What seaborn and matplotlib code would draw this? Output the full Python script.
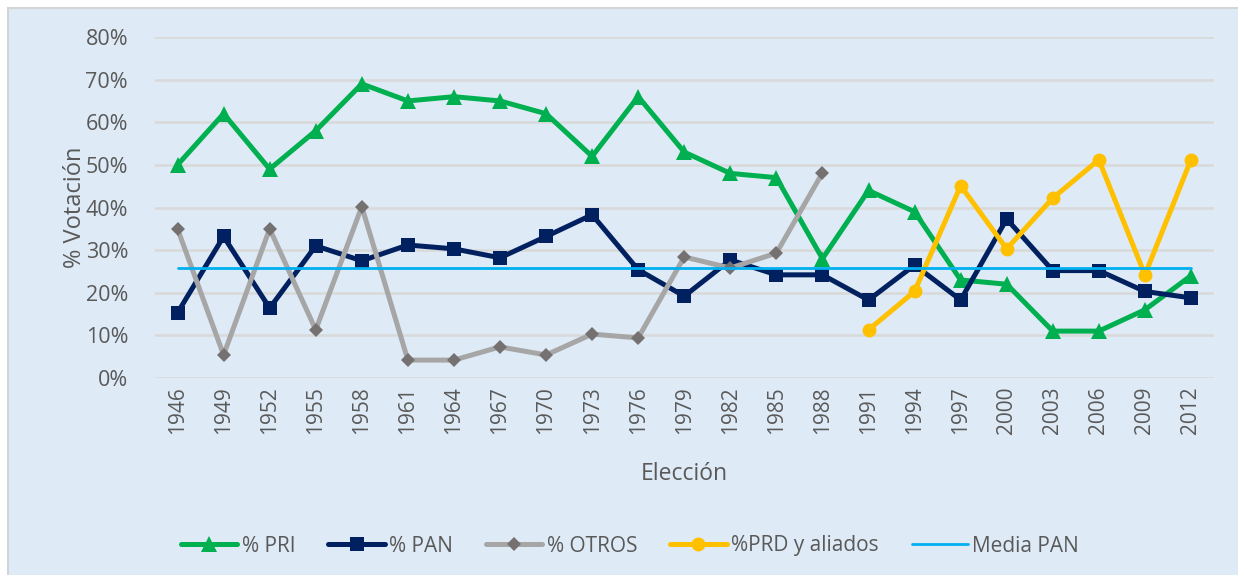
import numpy as np
import pandas as pd
import matplotlib
matplotlib.use("Agg")
import matplotlib.pyplot as plt
import seaborn as sns
from matplotlib.patches import Rectangle
from matplotlib.ticker import PercentFormatter

# ---- data (percent of vote) ----
years = [1946, 1949, 1952, 1955, 1958, 1961, 1964, 1967, 1970, 1973, 1976, 1979,
         1982, 1985, 1988, 1991, 1994, 1997, 2000, 2003, 2006, 2009, 2012]
pri = [50, 62, 49, 58, 69, 65, 66, 65, 62, 52, 66, 53,
       48, 47, 28, 44, 39, 23, 22, 11, 11, 16, 24]
pan = [15.3, 33.2, 16.4, 31, 27.5, 31.2, 30.3, 28.2, 33.2, 38.3, 25.4, 19.2,
       27.7, 24.2, 24.2, 18.3, 26.5, 18.3, 37.3, 25.2, 25.2, 20.3, 18.8]
otros_years = years[:15]
otros = [35, 5.4, 35, 11.3, 40.2, 4.2, 4.2, 7.3, 5.4, 10.3, 9.4, 28.4, 25.8, 29.3, 48.1]
prd_years = years[15:]
prd = [11.3, 20.3, 45.1, 30.3, 42.2, 51.2, 24.2, 51.2]
media_pan = 25.7

series_labels = ["% PRI", "% PAN", "% OTROS", "%PRD y aliados", "Media PAN"]

sns.set_theme(style="white")
plt.rcParams["font.family"] = ["Open Sans", "DejaVu Sans"]

W, H = 1238, 575
fig = plt.figure(figsize=(W / 100, H / 100), dpi=100)
fig.patch.set_facecolor("white")
bg = Rectangle((8 / W, -0.01), 1.02, 1 - 8 / H + 0.01, transform=fig.transFigure,
               facecolor="#deeaf6", edgecolor="#d4d4d4", lw=1.5, zorder=-10)
fig.add_artist(bg)

left, right = 154.5 / W, 1214 / W
bottom, top = 1 - 378 / H, 1 - 37 / H
ax = fig.add_axes([left, bottom, right - left, top - bottom])
ax.set_facecolor("none")
ax.set_zorder(5)

pos = {y: i for i, y in enumerate(years)}
x_all = [pos[y] for y in years]
x_otros = [pos[y] for y in otros_years]
x_prd = [pos[y] for y in prd_years]

sns.lineplot(x=x_all, y=pri, ax=ax, color="#00b050", lw=3.6, marker="^", markersize=11,
             markeredgewidth=0, label=series_labels[0])
sns.lineplot(x=x_all, y=pan, ax=ax, color="#002060", lw=3.6, marker="s", markersize=9.5,
             markeredgewidth=0, label=series_labels[1])
sns.lineplot(x=x_otros, y=otros, ax=ax, color="#a6a6a6", lw=3.6, marker="D", markersize=7.5,
             markerfacecolor="#767171", markeredgecolor="#767171", markeredgewidth=0,
             label=series_labels[2])
sns.lineplot(x=x_prd, y=prd, ax=ax, color="#ffc000", lw=3.6, marker="o", markersize=10,
             markeredgewidth=0, label=series_labels[3])
sns.lineplot(x=[x_all[0], x_all[-1]], y=[media_pan, media_pan], ax=ax, color="#00b0f0", lw=2,
             label=series_labels[4])

ax.set_xlim(-0.5, len(years) - 0.5)
ax.set_ylim(0, 80)
ax.set_yticks(np.arange(0, 81, 10))
ax.yaxis.set_major_formatter(PercentFormatter(100, decimals=0))
ax.set_xticks(x_all)
ax.set_xticklabels([str(y) for y in years], rotation=90)

for s in ax.spines.values():
    s.set_visible(False)
ax.yaxis.grid(True, color="#d9d9d9", lw=1.8)
ax.xaxis.grid(False)
ax.set_axisbelow(True)
ax.tick_params(axis="y", length=0, pad=19, labelsize=15.5, labelcolor="#595959")
ax.tick_params(axis="x", length=0, pad=6, labelsize=15, labelcolor="#595959")

ax.set_xlabel("Elección", fontsize=16.5, color="#595959", labelpad=20)
ax.set_ylabel("% Votación", fontsize=17, color="#595959", labelpad=-1)

h, l = ax.get_legend_handles_labels()
leg = ax.legend(h, l, loc="center", bbox_to_anchor=(630 / W, 1 - 546 / H),
                bbox_transform=fig.transFigure, ncol=5, frameon=False, fontsize=15,
                handlelength=2.7, handletextpad=0.2, columnspacing=1.6)
for t in leg.get_texts():
    t.set_color("#595959")

fig.savefig("out.png", dpi=100)
